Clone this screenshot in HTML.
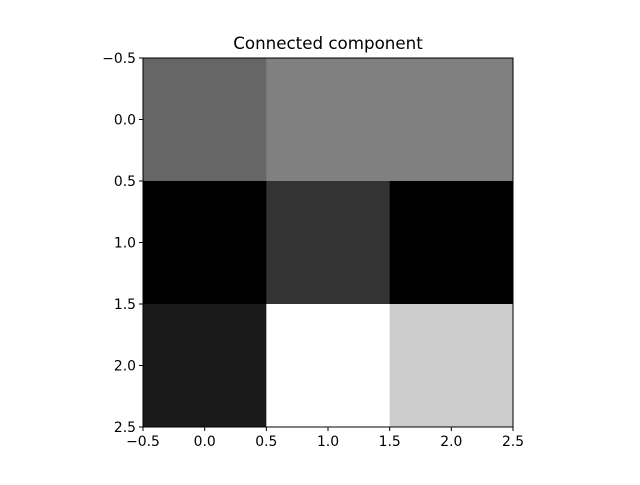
<!DOCTYPE html>
<html><head><meta charset="utf-8"><style>
body{margin:0;background:#fff;}
svg text{font-family:"DejaVu Sans","Liberation Sans",sans-serif;font-size:13.9px;fill:#000;}
</style></head><body>
<svg id="chart" width="640" height="480">
<rect width="640" height="480" fill="#fff"/>
<text x="328" y="49" text-anchor="middle" style="font-size:16.7px">Connected component</text>
<g id="cells"></g>
<rect x="143" y="58" width="370" height="369" fill="none" stroke="#000" stroke-width="1"/>
<g id="ticks"></g>
</svg>
<script>
const rows = [0, 1, 2];
const cols = [0, 1, 2];
const values = [
  [0.4, 0.5, 0.5],
  [0.0, 0.2, 0.0],
  [0.1, 1.0, 0.8]
];
const tickLabels = ["−0.5", "0.0", "0.5", "1.0", "1.5", "2.0", "2.5"];
const tickValues = [-0.5, 0, 0.5, 1, 1.5, 2, 2.5];

const X0 = 143, X1 = 513, Y0 = 58, Y1 = 427;
const xs = v => X0 + (v + 0.5) / 3 * (X1 - X0);
const ys = v => Y0 + (v + 0.5) / 3 * (Y1 - Y0);
const vmin = Math.min(...values.flat()), vmax = Math.max(...values.flat());
const NS = "http://www.w3.org/2000/svg";
const cellsG = document.getElementById('cells');
rows.forEach((r, i) => cols.forEach((c, j) => {
  const g = Math.round((values[i][j] - vmin) / (vmax - vmin) * 255);
  const rect = document.createElementNS(NS, 'rect');
  rect.setAttribute('x', xs(c - 0.5));
  rect.setAttribute('y', ys(r - 0.5));
  rect.setAttribute('width', xs(c + 0.5) - xs(c - 0.5) + 0.5);
  rect.setAttribute('height', ys(r + 0.5) - ys(r - 0.5) + 0.5);
  rect.setAttribute('fill', `rgb(${g},${g},${g})`);
  
  
  cellsG.appendChild(rect);
}));
const tg = document.getElementById('ticks');
tickValues.forEach((v, k) => {
  const x = xs(v);
  const l = document.createElementNS(NS, 'line');
  l.setAttribute('x1', x); l.setAttribute('x2', x);
  l.setAttribute('y1', Y1); l.setAttribute('y2', Y1 + 4);
  l.setAttribute('stroke', '#000');
  
  
  tg.appendChild(l);
  const t = document.createElementNS(NS, 'text');
  t.setAttribute('x', x); t.setAttribute('y', Y1 + 19);
  t.setAttribute('text-anchor', 'middle');
  t.textContent = tickLabels[k];
  
  
  tg.appendChild(t);
  const y = ys(v);
  const l2 = document.createElementNS(NS, 'line');
  l2.setAttribute('x1', X0 - 4); l2.setAttribute('x2', X0);
  l2.setAttribute('y1', y); l2.setAttribute('y2', y);
  l2.setAttribute('stroke', '#000');
  
  
  tg.appendChild(l2);
  const t2 = document.createElementNS(NS, 'text');
  t2.setAttribute('x', X0 - 7); t2.setAttribute('y', y + 5);
  t2.setAttribute('text-anchor', 'end');
  t2.textContent = tickLabels[k];
  
  
  tg.appendChild(t2);
});
</script>
</body></html>
